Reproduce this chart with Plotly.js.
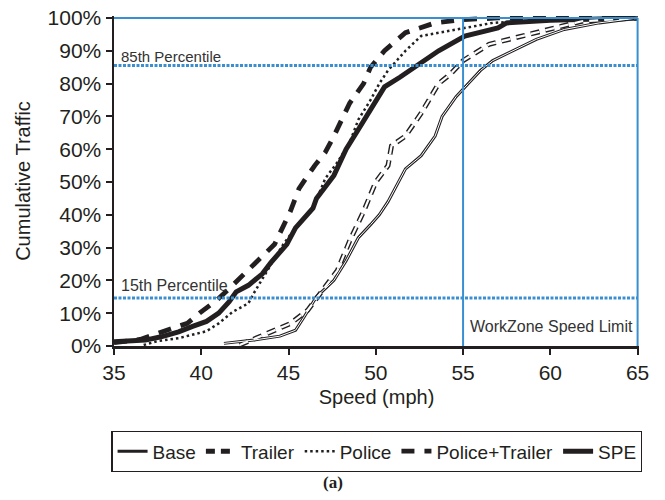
<!DOCTYPE html>
<html>
<head>
<meta charset="utf-8">
<script src="https://cdn.plot.ly/plotly-3.0.1.min.js"></script>
<style>html,body{margin:0;padding:0;background:#fff;}#chart{width:665px;height:500px;}</style>
</head>
<body>
<div id="chart"></div>
<script>
// Cumulative traffic (%) vs speed (mph)
const baseSpeed   = [41.3, 43.0, 44.5, 45.4, 45.9, 46.6, 47.1, 47.6, 48.3, 49.0, 49.7, 50.2, 50.7, 51.2, 51.7, 52.6, 53.4, 53.8, 54.6, 55.3, 56.0, 56.7, 57.9, 59.2, 60.8, 62.8, 65.0];
const baseCum     = [0.8, 1.8, 3.0, 4.8, 8.9, 15.0, 17.5, 20.0, 26.0, 33.0, 37.0, 40.0, 44.0, 49.0, 54.0, 58.0, 64.0, 70.0, 76.0, 80.0, 84.0, 87.0, 90.0, 93.5, 96.5, 98.5, 100.0];

const trailerSpeed = [42.2, 43.5, 45.1, 46.1, 46.8, 47.8, 48.5, 49.3, 50.0, 50.7, 50.9, 51.7, 52.6, 53.6, 54.3, 55.0, 56.5, 58.4, 60.4, 61.8, 65.0];
const trailerCum   = [0.3, 3.3, 6.8, 10.9, 16.0, 23.0, 32.0, 41.0, 50.0, 55.0, 61.0, 64.0, 71.0, 80.0, 83.0, 87.0, 92.0, 94.5, 97.0, 99.0, 100.0];

const policeSpeed = [36.7, 37.5, 38.7, 39.9, 40.3, 41.0, 41.8, 42.7, 43.0, 43.9, 44.7, 45.4, 46.4, 47.1, 47.8, 48.5, 49.0, 49.7, 50.2, 50.7, 51.7, 52.6, 54.6, 56.7, 60.0, 65.0];
const policeCum   = [0.3, 1.5, 2.4, 3.9, 4.5, 6.9, 10.4, 13.0, 16.0, 24.0, 31.0, 36.0, 42.0, 51.0, 56.0, 62.0, 69.0, 75.0, 80.0, 84.0, 90.0, 94.5, 96.5, 98.5, 99.5, 100.0];

const ptSpeed = [35.0, 36.5, 37.9, 39.2, 39.9, 40.9, 41.5, 42.7, 43.5, 44.2, 45.1, 45.6, 46.5, 47.1, 47.6, 48.5, 49.3, 49.7, 50.5, 51.7, 53.4, 55.0, 57.0, 65.0];
const ptCum   = [1.0, 2.0, 4.6, 6.9, 10.0, 14.0, 17.0, 23.0, 27.0, 31.0, 41.0, 48.0, 55.0, 59.0, 64.0, 74.0, 80.0, 85.0, 90.0, 95.5, 98.5, 99.5, 100.0, 100.0];

const speSpeed = [35.0, 36.8, 37.7, 38.7, 39.5, 40.3, 41.0, 41.6, 42.0, 42.7, 43.5, 44.0, 44.9, 45.4, 46.4, 46.6, 47.6, 48.3, 49.0, 49.8, 50.5, 51.4, 52.2, 53.6, 55.1, 57.0, 57.5, 60.0, 65.0];
const speCum   = [1.3, 1.8, 2.8, 4.3, 6.0, 7.5, 10.0, 13.5, 16.5, 18.5, 22.0, 25.5, 31.0, 36.0, 42.0, 45.0, 52.0, 60.0, 66.0, 73.0, 79.0, 82.0, 85.0, 90.0, 94.5, 97.0, 98.5, 99.3, 100.0];

const seriesNames = ['Base', 'Trailer', 'Police', 'Police+Trailer', 'SPE'];

// Reference lines
const percentileLevels = [85.5, 14.6];
const percentileLabels = ['85th Percentile', '15th Percentile'];
const speedLimits = [55, 65];
const xTickVals = [35, 40, 45, 50, 55, 60, 65];
const yTickVals = [0, 10, 20, 30, 40, 50, 60, 70, 80, 90, 100];

const blue = '#3a8fd1';
const ink = '#231f20';
const font = 'Liberation Sans, Arial, sans-serif';

const traces = [
  {x: baseSpeed, y: baseCum, name: seriesNames[0], mode: 'lines',
   line: {color: ink, width: 3}},
  {x: trailerSpeed, y: trailerCum, name: seriesNames[1], mode: 'lines',
   line: {color: ink, width: 5, dash: '9px,6px'}},
  {x: policeSpeed, y: policeCum, name: seriesNames[2], mode: 'lines',
   line: {color: ink, width: 2.5, dash: '2.5px,3px'}},
  {x: ptSpeed, y: ptCum, name: seriesNames[3], mode: 'lines',
   line: {color: ink, width: 4.8, dash: '13px,10px'}},
  {x: speSpeed, y: speCum, name: seriesNames[4], mode: 'lines',
   line: {color: ink, width: 5}},
  // white cores to give the hollow look of Base and Trailer
  {x: baseSpeed, y: baseCum, mode: 'lines', showlegend: false, hoverinfo: 'skip',
   line: {color: '#ffffff', width: 1}},
  {x: trailerSpeed, y: trailerCum, mode: 'lines', showlegend: false, hoverinfo: 'skip',
   line: {color: '#ffffff', width: 2.2, dash: '9px,6px'}}
];

const shapes = [];
shapes.push({type: 'line', xref: 'x', yref: 'y', x0: 35, x1: 65, y0: 100, y1: 100,
  line: {color: blue, width: 2}});
percentileLevels.forEach(function (lv) {
  shapes.push({type: 'line', xref: 'x', yref: 'y', x0: 35, x1: 65, y0: lv, y1: lv,
    line: {color: blue, width: 3, dash: '3px,1.5px'}});
});
speedLimits.forEach(function (s) {
  shapes.push({type: 'line', xref: 'x', yref: 'y', x0: s, x1: s, y0: 0, y1: 100,
    line: {color: blue, width: 2}});
});

const annotations = [
  {x: 35.3, y: percentileLevels[0] + 2.8, xref: 'x', yref: 'y', text: percentileLabels[0],
   showarrow: false, xanchor: 'left', yanchor: 'middle', font: {family: font, size: 15, color: '#333'}},
  {x: 35.3, y: percentileLevels[1] + 3.9, xref: 'x', yref: 'y', text: percentileLabels[1],
   showarrow: false, xanchor: 'left', yanchor: 'middle', font: {family: font, size: 16, color: '#333'}},
  {x: 60.06, y: 5.8, xref: 'x', yref: 'y', text: 'WorkZone Speed Limit',
   showarrow: false, xanchor: 'center', yanchor: 'middle', font: {family: font, size: 16, color: '#333'}},
  {x: 0.417, y: -0.415, xref: 'paper', yref: 'paper', text: '<b>(a)</b>',
   showarrow: false, xanchor: 'center', yanchor: 'middle',
   font: {family: 'Liberation Serif, Times New Roman, serif', size: 17, color: ink}}
];

const layout = {
  width: 665, height: 500,
  margin: {l: 114, r: 26, t: 16, b: 154},
  paper_bgcolor: '#ffffff', plot_bgcolor: '#ffffff',
  font: {family: font, color: ink},
  showlegend: true,
  xaxis: {
    range: [35, 65.08], tickvals: xTickVals, ticktext: xTickVals.map(String),
    showgrid: false, zeroline: false, showline: true, linecolor: ink, linewidth: 2.5,
    ticks: 'outside', ticklen: 6, tickwidth: 2, tickcolor: ink,
    tickfont: {family: font, size: 21, color: ink},
    title: {text: 'Speed (mph)', font: {family: font, size: 20, color: ink}, standoff: 8}
  },
  yaxis: {
    range: [0, 100.6], tickvals: yTickVals, ticktext: yTickVals.map(function (v) { return v + '%'; }),
    showgrid: false, zeroline: false, showline: true, linecolor: ink, linewidth: 2.5,
    ticks: 'outside', ticklen: 6, tickwidth: 2, tickcolor: ink,
    tickfont: {family: font, size: 21, color: ink},
    title: {text: 'Cumulative Traffic', font: {family: font, size: 20, color: ink}, standoff: 12}
  },
  legend: {
    orientation: 'h', x: -0.005, y: -0.258, xanchor: 'left', yanchor: 'top',
    bordercolor: ink, borderwidth: 1.2, bgcolor: '#ffffff',
    font: {family: font, size: 19, color: ink}, itemwidth: 30, traceorder: 'normal',
    tracegroupgap: 0
  },
  shapes: shapes,
  annotations: annotations
};

Plotly.newPlot('chart', traces, layout, {staticPlot: true, displayModeBar: false});
</script>
</body>
</html>
